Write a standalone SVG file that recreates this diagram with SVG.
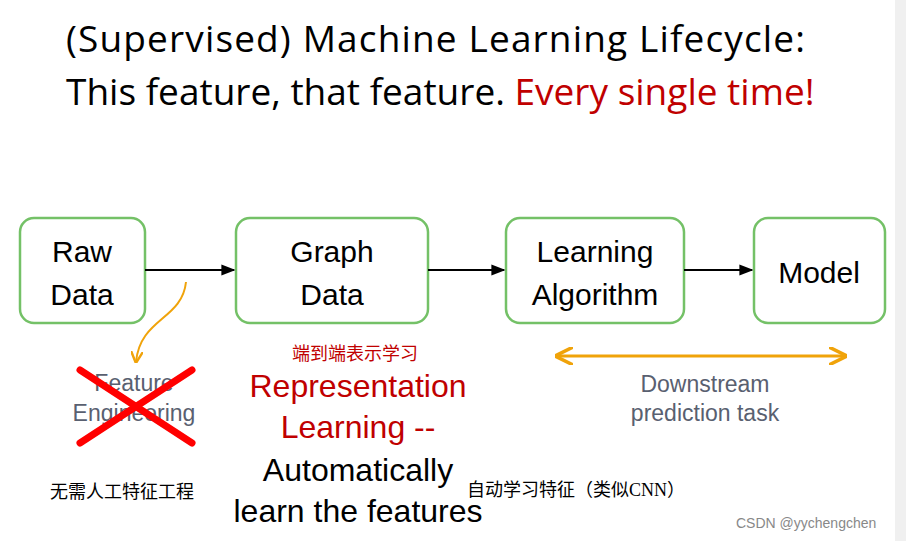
<svg xmlns="http://www.w3.org/2000/svg" width="906" height="541" viewBox="0 0 906 541">
<defs>
<style>
.box{fill:#fff;stroke:#74c167;stroke-width:2.5}
.lbl{font-family:"Liberation Sans",Arial,sans-serif;font-size:30px;fill:#000;text-anchor:middle}
.t{font-family:"Open Sans","Liberation Sans",sans-serif;font-size:37px}
.g{font-family:"Liberation Sans",Arial,sans-serif;font-size:23px;fill:#596070;text-anchor:middle}
.big{font-family:"Liberation Sans",Arial,sans-serif;font-size:32px;text-anchor:middle}
.cn{font-family:"Liberation Serif","Noto Sans CJK SC",serif;font-size:18px}
</style>
<marker id="ab" viewBox="0 0 10 10" refX="9" refY="5" markerWidth="7" markerHeight="7" orient="auto"><path d="M0,1 L10,5 L0,9 Z" fill="#000"/></marker>
<marker id="ao" viewBox="0 0 10 10" refX="9" refY="5" markerWidth="6" markerHeight="6" orient="auto-start-reverse"><path d="M0,0 L10,5 L0,10" fill="none" stroke="#f0a30a" stroke-width="2"/></marker>
</defs>
<rect width="906" height="541" fill="#fff"/>
<rect x="895" y="0" width="11" height="541" fill="#f0f0f0"/>
<text class="t" x="66" y="52" textLength="739">(Supervised) Machine Learning Lifecycle:</text>
<text class="t" x="66" y="105">This feature, that feature. <tspan fill="#c00000">Every single time!</tspan></text>
<g id="raw"><rect class="box" x="20" y="218" width="125" height="105" rx="14"/><text class="lbl" x="82" y="262">Raw</text><text class="lbl" x="82" y="305">Data</text></g>
<g id="graph"><rect class="box" x="236" y="218" width="192" height="105" rx="14"/><text class="lbl" x="332" y="262">Graph</text><text class="lbl" x="332" y="305">Data</text></g>
<g id="algo"><rect class="box" x="506" y="218" width="178" height="105" rx="14"/><text class="lbl" x="595" y="262">Learning</text><text class="lbl" x="595" y="305">Algorithm</text></g>
<g id="model"><rect class="box" x="754" y="218" width="131" height="105" rx="14"/><text class="lbl" x="819" y="283">Model</text></g>
<g id="connectors" fill="none">
<path d="M145,270 H234" stroke="#000" stroke-width="2" marker-end="url(#ab)"/>
<path d="M428,270 H504" stroke="#000" stroke-width="2" marker-end="url(#ab)"/>
<path d="M684,270 H752" stroke="#000" stroke-width="2" marker-end="url(#ab)"/>
<path d="M186,282 C182,320 140,318 136,362" stroke="#f0a30a" stroke-width="2" marker-end="url(#ao)"/>
<path d="M557,356 H845" stroke="#f0a30a" stroke-width="3" marker-start="url(#ao)" marker-end="url(#ao)"/>
</g>
<text class="g" x="134" y="391">Feature</text>
<text class="g" x="134" y="421">Engineering</text>
<g stroke="#ff0000" stroke-width="7" stroke-linecap="round"><line x1="80" y1="370" x2="192" y2="443"/><line x1="192" y1="370" x2="80" y2="443"/></g>
<text class="cn" x="355" y="360" fill="#c00000" text-anchor="middle">端到端表示学习</text>
<text class="big" x="358" y="397" fill="#c00000">Representation</text>
<text class="big" x="358" y="438" fill="#c00000">Learning --</text>
<text class="big" x="358" y="481" fill="#000">Automatically</text>
<text class="big" x="358" y="522" fill="#000">learn  the features</text>
<text class="cn" x="50" y="498" fill="#000">无需人工特征工程</text>
<text class="cn" x="467" y="496" fill="#000">自动学习特征（类似CNN）</text>
<text class="g" x="705" y="392">Downstream</text>
<text class="g" x="705" y="421">prediction task</text>
<text x="736" y="528" font-family="Liberation Sans,Arial,sans-serif" font-size="14" fill="#888">CSDN @yychengchen</text>
</svg>
